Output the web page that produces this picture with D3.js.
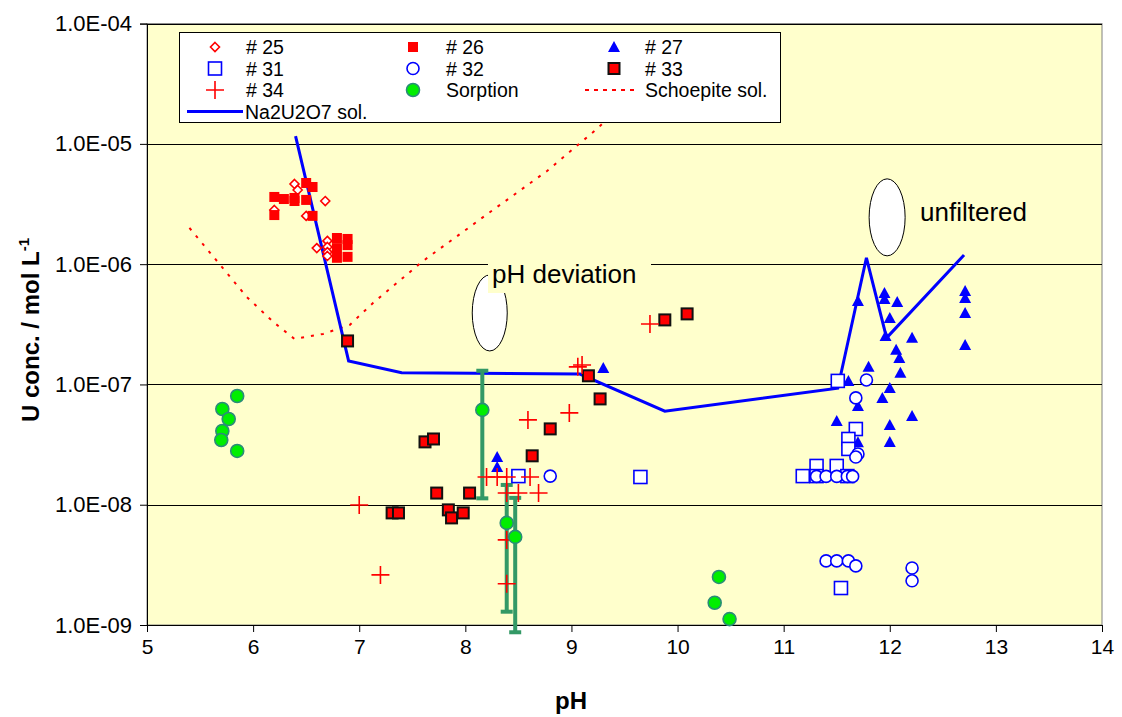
<!DOCTYPE html>
<html><head><meta charset="utf-8">
<script src="https://cdn.jsdelivr.net/npm/d3@7/dist/d3.min.js"></script>
<style>body{margin:0;background:#fff} text{font-family:"Liberation Sans",Arial,sans-serif;fill:#000}</style>
</head><body><svg id="c" width="1122" height="717"></svg>
<script>
// ---- data: [pH, U conc (mol/L)] ----
const s25 = [[6.39,4.64e-6],[6.42,4.14e-6],[6.2,2.82e-6],[6.5,2.52e-6],[6.68,3.35e-6],[6.6,1.36e-6],[6.7,1.56e-6],[6.7,1.39e-6],[6.7,1.26e-6],[6.7,1.17e-6]];
const s26 = [[6.2,3.62e-6],[6.2,2.56e-6],[6.29,3.48e-6],[6.39,3.55e-6],[6.39,3.35e-6],[6.5,4.73e-6],[6.5,3.42e-6],[6.56,4.38e-6],[6.56,2.52e-6],[6.79,1.65e-6],[6.89,1.62e-6],[6.89,1.44e-6],[6.79,1.36e-6],[6.79,1.13e-6],[6.89,1.15e-6]];
const s27 = [[8.3,2.49e-8],[8.3,2.06e-8],[9.3,1.37e-7],[11.7,4.94e-7],[11.61,1.07e-7],[11.8,1.4e-7],[11.7,6.62e-8],[11.5,4.97e-8],[11.93,7.73e-8],[11.95,5.76e-7],[11.95,5.14e-7],[12.07,4.85e-7],[12.0,3.57e-7],[11.96,2.53e-7],[12.21,2.44e-7],[12.06,1.94e-7],[12.09,1.66e-7],[12.1,1.25e-7],[12.0,9.35e-8],[12.21,5.47e-8],[12.0,4.61e-8],[12.0,3.33e-8],[11.7,3.3e-8],[12.71,5.98e-7],[12.71,5.24e-7],[12.71,3.93e-7],[12.71,2.13e-7]];
const s31 = [[8.5,1.73e-8],[9.65,1.7e-8],[11.51,1.07e-7],[11.68,4.26e-8],[11.61,3.52e-8],[11.61,2.91e-8],[11.31,2.1e-8],[11.5,2.1e-8],[11.18,1.73e-8],[11.31,1.73e-8],[11.6,1.73e-8],[11.54,2.03e-9]];
const s32 = [[8.8,1.73e-8],[11.78,1.09e-7],[11.68,7.73e-8],[11.7,2.64e-8],[11.68,2.49e-8],[11.31,1.72e-8],[11.4,1.72e-8],[11.5,1.72e-8],[11.6,1.72e-8],[11.65,1.72e-8],[11.4,3.41e-9],[11.5,3.41e-9],[11.61,3.41e-9],[11.68,3.1e-9],[12.21,2.98e-9],[12.21,2.33e-9]];
const s33 = [[6.89,2.3e-7],[7.62,3.33e-8],[7.7,3.52e-8],[7.73,1.25e-8],[8.04,1.25e-8],[7.31,8.55e-9],[7.37,8.55e-9],[7.84,9.06e-9],[7.87,7.77e-9],[7.98,8.55e-9],[8.63,2.55e-8],[8.8,4.27e-8],[9.16,1.18e-7],[9.27,7.58e-8],[9.88,3.44e-7],[10.09,3.86e-7]];
const s34 = [[7.0,9.96e-9],[7.2,2.61e-9],[8.2,1.7e-8],[8.3,1.7e-8],[8.39,1.7e-8],[8.61,1.7e-8],[8.39,1.25e-8],[8.5,1.25e-8],[8.69,1.25e-8],[8.39,5.1e-9],[8.39,2.2e-9],[8.59,5.07e-8],[8.98,5.8e-8],[9.06,1.4e-7],[9.1,1.45e-7],[9.74,3.18e-7]];
const sorption = [[5.85,8.02e-8],[5.71,6.25e-8],[5.77,5.16e-8],[5.71,4.1e-8],[5.7,3.45e-8],[5.85,2.8e-8],[8.16,6.14e-8],[8.39,7.06e-9],[8.47,5.4e-9],[10.39,2.51e-9],[10.35,1.53e-9],[10.49,1.12e-9]];
// error bars for sorption: [pH, low, high]
const sorptionErr = [[8.16,1.13e-8,1.3e-7],[8.39,1.29e-9,1.46e-8],[8.47,8.7e-10,1.14e-8]];
const schoepite = [[5.4,2.0e-6],[5.69,9.85e-7],[5.94,5.34e-7],[6.19,3.31e-7],[6.39,2.39e-7],[6.66,2.63e-7],[6.91,3.12e-7],[7.13,4.76e-7],[7.6,1.06e-6],[8.26,2.82e-6],[8.77,5.95e-6],[9.26,1.38e-5],[9.3,1.5e-5]];
const na2u2o7 = [[6.4,1.16e-5],[6.9,1.57e-7],[7.4,1.25e-7],[9.08,1.22e-7],[9.88,6.0e-8],[11.51,9.3e-8],[11.78,1.13e-6],[11.97,2.44e-7],[12.7,1.19e-6]];
const xTicks = [5,6,7,8,9,10,11,12,13,14];
const yTicks = [1e-9,1e-8,1e-7,1e-6,1e-5,1e-4];
const yTickLabels = ["1.0E-09","1.0E-08","1.0E-07","1.0E-06","1.0E-05","1.0E-04"];
const legendItems = [["# 25","d"],["# 26","sq"],["# 27","tri"],["# 31","osq"],["# 32","oc"],["# 33","bsq"],["# 34","plus"],["Sorption","gc"],["Schoepite sol.","dot"],["Na2U2O7 sol.","line"]];
// annotations: [label, pH, conc] (ellipse centres)
const notes = [["pH deviation",8.23,3.93e-7],["unfiltered",11.975,2.45e-6]];

// ---- layout ----
const L=147,R=1102,T=23.6,B=625;
const x=d3.scaleLinear().domain([5,14]).range([L,R]);
const y=d3.scaleLog().domain([1e-9,1e-4]).range([B,T]);
const svg=d3.select("#c");
svg.append("rect").attr("x",L).attr("y",T).attr("width",R-L).attr("height",B-T).attr("fill","#FFFFCC").attr("stroke","#808080").attr("stroke-width",1);
svg.append("g").selectAll("line").data(yTicks).join("line")
 .attr("x1",L).attr("x2",R).attr("y1",d=>Math.round(y(d))+0.5).attr("y2",d=>Math.round(y(d))+0.5).attr("stroke","#000").attr("stroke-width",1);

// axes
const gy=svg.append("g").attr("transform",`translate(${L},0)`)
 .call(d3.axisLeft(y).tickValues(yTicks).tickFormat((d,i)=>yTickLabels[i]).tickSize(7).tickPadding(8));
const gx=svg.append("g").attr("transform",`translate(0,${B})`)
 .call(d3.axisBottom(x).tickValues(xTicks).tickFormat(d3.format("d")).tickSize(7).tickPadding(5));
[gx,gy].forEach(g=>{g.select(".domain").attr("stroke","#000").attr("stroke-width",1);g.selectAll(".tick line").attr("stroke","#000");g.selectAll("text").attr("font-family","Liberation Sans, Arial, sans-serif");});
gy.selectAll("text").attr("font-size",22);
gx.selectAll("text").attr("font-size",21).attr("dy","0.8em");

// axis titles
svg.append("text").attr("x",571).attr("y",709).attr("text-anchor","middle").attr("font-size",24).attr("font-weight","bold").text("pH");
const yt=svg.append("text").attr("transform","translate(39,330) rotate(-90)").attr("text-anchor","middle").attr("font-size",24).attr("font-weight","bold");
yt.append("tspan").text("U conc. / mol L");
yt.append("tspan").attr("dy",-10).attr("font-size",15).text("-1");

// annotations
const ell=(cx,cy,rx,ry)=>svg.append("ellipse").attr("cx",cx).attr("cy",cy).attr("rx",rx).attr("ry",ry).attr("fill","#fff").attr("stroke","#000").attr("stroke-width",1);
ell(x(notes[0][1]),y(notes[0][2]),17.5,38);
svg.append("rect").attr("x",488).attr("y",250).attr("width",163).attr("height",43).attr("fill","#FFFFCC");
svg.append("text").attr("x",492).attr("y",283).attr("font-size",26).text(notes[0][0]);
ell(x(notes[1][1]),y(notes[1][2]),18,38.5);
svg.append("text").attr("x",920).attr("y",221).attr("font-size",26).text(notes[1][0]);

// lines
const line=d3.line().x(d=>x(d[0])).y(d=>y(d[1]));
svg.append("path").datum(schoepite).attr("d",line).attr("fill","none").attr("stroke","#FF0000").attr("stroke-width",2).attr("stroke-dasharray","3,7");
svg.append("path").datum(na2u2o7).attr("d",line).attr("fill","none").attr("stroke","#0000FF").attr("stroke-width",3);

// error bars
const eb=svg.append("g").attr("stroke","#339966").attr("stroke-width",4);
sorptionErr.forEach(d=>{
 eb.append("line").attr("x1",x(d[0])).attr("x2",x(d[0])).attr("y1",y(d[1])).attr("y2",y(d[2]));
 [d[1],d[2]].forEach(v=>eb.append("line").attr("x1",x(d[0])-6).attr("x2",x(d[0])+6).attr("y1",y(v)).attr("y2",y(v)));
});

// marker painters
function marker(g,type){
 switch(type){
  case "d": g.append("path").attr("d","M0,-4.5L4.5,0L0,4.5L-4.5,0Z").attr("fill","#fff").attr("stroke","#FF0000").attr("stroke-width",1.6);break;
  case "sq": g.append("rect").attr("x",-5).attr("y",-5).attr("width",10).attr("height",10).attr("fill","#FF0000");break;
  case "tri": g.append("path").attr("d","M0,-6L6,5L-6,5Z").attr("fill","#0000FF");break;
  case "osq": g.append("rect").attr("x",-6.5).attr("y",-6.5).attr("width",13).attr("height",13).attr("fill","#fff").attr("stroke","#0000FF").attr("stroke-width",1.6);break;
  case "oc": g.append("circle").attr("r",6).attr("fill","#fff").attr("stroke","#0000FF").attr("stroke-width",1.6);break;
  case "bsq": g.append("rect").attr("x",-5.5).attr("y",-5.5).attr("width",11).attr("height",11).attr("fill","#FF0000").attr("stroke","#111").attr("stroke-width",2);break;
  case "plus": g.append("path").attr("d","M-9,0H9M0,-9V9").attr("stroke","#FF0000").attr("stroke-width",1.6);break;
  case "gc": g.append("circle").attr("r",6.5).attr("fill","#00EE00").attr("stroke","#2A8C78").attr("stroke-width",1.6);break;
  case "dot": g.append("line").attr("x1",-27).attr("x2",27).attr("stroke","#FF0000").attr("stroke-width",2).attr("stroke-dasharray","4,5");break;
  case "line": g.append("line").attr("x1",-28).attr("x2",28).attr("stroke","#0000FF").attr("stroke-width",3);break;
 }
}
function series(data,type){
 const g=svg.append("g");
 data.forEach(d=>marker(g.append("g").attr("transform",`translate(${x(d[0])},${y(d[1])})`),type));
}
series(s25,"d");series(s26,"sq");series(s27,"tri");series(s31,"osq");series(s32,"oc");series(s33,"bsq");series(s34,"plus");series(sorption,"gc");

// legend
svg.append("rect").attr("x",179.5).attr("y",32.5).attr("width",601).attr("height",90).attr("fill","#fff").attr("stroke","#000").attr("stroke-width",1);
const colSym=[215,413,614], colTxt=[246,446,645], rowY=[47,68.5,90,111.5];
legendItems.forEach((it,i)=>{
 const r=Math.floor(i/3), c=i%3;
 let sx=colSym[c], tx=colTxt[c];
 if(it[1]==="line"){sx=215;tx=245;}
 if(it[1]==="dot"){sx=612;}
 marker(svg.append("g").attr("transform",`translate(${sx},${rowY[r]})`),it[1]);
 svg.append("text").attr("x",tx).attr("y",rowY[r]).attr("dy","0.36em").attr("font-size",19.5).text(it[0]);
});
</script></body></html>
